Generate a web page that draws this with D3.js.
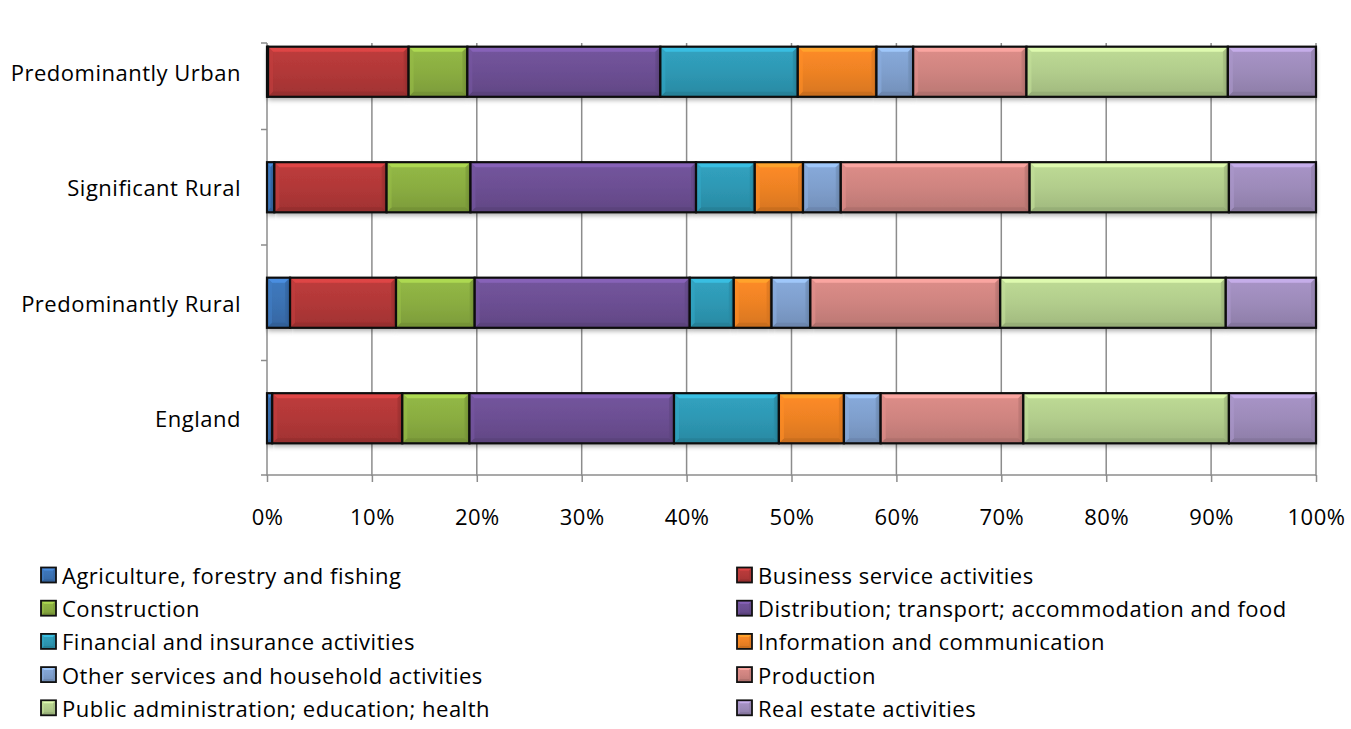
<!DOCTYPE html>
<html>
<head>
<meta charset="utf-8">
<script src="https://cdn.jsdelivr.net/npm/d3@7"></script>
<style>
  html, body { margin: 0; padding: 0; background: #fff; }
  svg { display: block; font-family: "Open Sans", "Noto Sans", sans-serif; }
  text { letter-spacing: 0.5px; }
</style>
</head>
<body>
<svg id="chart" width="1351" height="729"></svg>
<script>
// ---- data ----
const categories = ["Predominantly Urban", "Significant Rural", "Predominantly Rural", "England"];
const seriesNames = [
  "Agriculture, forestry and fishing",
  "Business service activities",
  "Construction",
  "Distribution; transport; accommodation and food",
  "Financial and insurance activities",
  "Information and communication",
  "Other services and household activities",
  "Production",
  "Public administration; education; health",
  "Real estate activities"
];
// values (% share) per category, in seriesNames order
const urbanValues       = [0.1, 13.4, 5.6, 18.4, 13.1, 7.5, 3.5, 10.8, 19.2, 8.4];
const significantValues = [0.7, 10.7, 8.0, 21.5, 5.6, 4.6, 3.6, 18.0, 19.0, 8.3];
const predRuralValues   = [2.2, 10.1, 7.5, 20.5, 4.2, 3.6, 3.7, 18.1, 21.5, 8.6];
const englandValues     = [0.5, 12.4, 6.4, 19.5, 10.0, 6.2, 3.5, 13.6, 19.6, 8.3];
const xTicks = [0, 10, 20, 30, 40, 50, 60, 70, 80, 90, 100];
const seriesColors = ["#3b72b3", "#b23838", "#8aad41", "#6c4f93", "#2e98b4", "#ee8224", "#7f9fcd", "#cf8480", "#b2cd8c", "#9d8bba"];

// ---- build table ----
const valuesByCat = [urbanValues, significantValues, predRuralValues, englandValues];
const table = categories.map((c, i) => {
  const row = { category: c };
  seriesNames.forEach((s, j) => row[s] = valuesByCat[i][j]);
  return row;
});
const stacked = d3.stack().keys(seriesNames)(table);

const svg = d3.select("#chart");
const x = d3.scaleLinear().domain([0, 100]).range([267, 1316]);
const y = d3.scaleBand().domain(categories).range([14, 476]).paddingInner(0.566).paddingOuter(0.283);

// ---- defs: gradients & shadow ----
const defs = svg.append("defs");
seriesColors.forEach((col, i) => {
  const c = d3.color(col);
  const g = defs.append("linearGradient").attr("id", "g" + i)
    .attr("x1", 0).attr("y1", 0).attr("x2", 0).attr("y2", 1);
  g.append("stop").attr("offset", "0%").attr("stop-color", c.brighter(0.2));
  g.append("stop").attr("offset", "50%").attr("stop-color", c);
  g.append("stop").attr("offset", "100%").attr("stop-color", c.darker(0.3));
});
const f = defs.append("filter").attr("id", "shadow").attr("x", "-5%").attr("y", "-20%").attr("width", "110%").attr("height", "160%");
f.append("feDropShadow").attr("dx", 0).attr("dy", 3).attr("stdDeviation", 2.5).attr("flood-color", "#000").attr("flood-opacity", 0.35);

// ---- gridlines ----
const gridTop = 43, gridBottom = 476;
svg.append("g").selectAll("line").data(xTicks.slice(1)).join("line")
  .attr("x1", d => x(d)).attr("x2", d => x(d))
  .attr("y1", gridTop).attr("y2", gridBottom)
  .attr("stroke", "#8c8c8c").attr("stroke-width", 1.5);

// ---- y axis ----
svg.append("line").attr("x1", x(0)).attr("x2", x(0)).attr("y1", gridTop).attr("y2", gridBottom)
  .attr("stroke", "#8c8c8c").attr("stroke-width", 1.5);
const yTickPos = [gridTop].concat(categories.slice(1).map(c => y(c) + y.bandwidth() / 2 - y.step() / 2));
svg.append("g").selectAll("line").data(yTickPos).join("line")
  .attr("x1", x(0) - 6).attr("x2", x(0))
  .attr("y1", d => d).attr("y2", d => d)
  .attr("stroke", "#8c8c8c").attr("stroke-width", 1.5);
svg.append("g").selectAll("text").data(categories).join("text")
  .attr("x", 241).attr("y", d => y(d) + y.bandwidth() / 2)
  .attr("text-anchor", "end").attr("dominant-baseline", "central")
  .attr("font-size", 22).attr("fill", "#000").text(d => d);

// ---- x axis ----
const xAxis = d3.axisBottom(x).tickValues(xTicks).tickFormat(d => d + "%").tickSize(7).tickPadding(36);
const xg = svg.append("g").attr("transform", `translate(0,${gridBottom - 1})`).call(xAxis);
xg.select(".domain").attr("stroke", "#8c8c8c").attr("stroke-width", 1.5).attr("d", `M${x(0) - 6},0H${x(100)}`);
xg.selectAll(".tick line").attr("stroke", "#8c8c8c").attr("stroke-width", 1.5);
xg.selectAll(".tick text").attr("font-size", 22).attr("fill", "#000")
  .attr("dy", "0.32em").attr("font-family", '"Open Sans", "Noto Sans", sans-serif');

// ---- bars with bevel ----
function bevel(g, x0, y0, w, h, col, b) {
  const c = d3.color(col);
  const bw = Math.min(b, w / 2);
  const x1 = x0 + w, y1 = y0 + h;
  g.append("path").attr("d", `M${x0},${y0}L${x1},${y0}L${x1 - bw},${y0 + b}L${x0 + bw},${y0 + b}Z`)
    .attr("fill", c.brighter(0.7)).attr("opacity", 0.85);
  g.append("path").attr("d", `M${x0},${y1}L${x1},${y1}L${x1 - bw},${y1 - b}L${x0 + bw},${y1 - b}Z`)
    .attr("fill", c.darker(0.6)).attr("opacity", 0.6);
  g.append("path").attr("d", `M${x0},${y0}L${x0 + bw},${y0 + b}L${x0 + bw},${y1 - b}L${x0},${y1}Z`)
    .attr("fill", c.brighter(0.25)).attr("opacity", 0.6);
  g.append("path").attr("d", `M${x1},${y0}L${x1 - bw},${y0 + b}L${x1 - bw},${y1 - b}L${x1},${y1}Z`)
    .attr("fill", c.darker(0.3)).attr("opacity", 0.6);
}
const barsG = svg.append("g");
stacked.forEach((layer, i) => {
  const g = barsG.append("g");
  layer.forEach(seg => {
    const x0 = x(seg[0]);
    const w = x(seg[1]) - x0;
    if (w <= 0) return;
    const y0 = y(seg.data.category), h = y.bandwidth();
    g.append("rect")
      .attr("x", x0).attr("y", y0).attr("width", w).attr("height", h)
      .attr("fill", `url(#g${i})`).attr("filter", "url(#shadow)");
    bevel(g, x0, y0, w, h, seriesColors[i], 5);
    g.append("rect")
      .attr("x", x0).attr("y", y0).attr("width", w).attr("height", h)
      .attr("fill", "none").attr("stroke", "#0d0d0d").attr("stroke-width", 2.2);
  });
});

// ---- legend ----
const legend = svg.append("g");
seriesNames.forEach((s, i) => {
  const col = i % 2, row = Math.floor(i / 2);
  const lx = col === 0 ? 41 : 737;
  const ly = 575 + row * 33.2;
  legend.append("rect").attr("x", lx).attr("y", ly - 7.5).attr("width", 15).attr("height", 15)
    .attr("fill", `url(#g${i})`);
  bevel(legend, lx, ly - 7.5, 15, 15, seriesColors[i], 3);
  legend.append("rect").attr("x", lx).attr("y", ly - 7.5).attr("width", 15).attr("height", 15)
    .attr("fill", "none").attr("stroke", "#111").attr("stroke-width", 1.8);
  legend.append("text").attr("x", lx + 21).attr("y", ly)
    .attr("dominant-baseline", "central").attr("font-size", 22).attr("fill", "#000").text(s);
});
</script>
</body>
</html>
